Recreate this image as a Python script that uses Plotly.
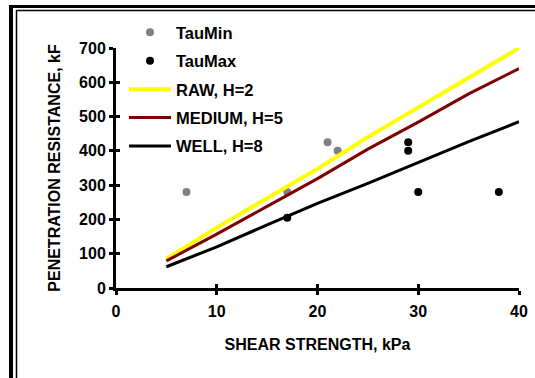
import plotly.graph_objects as go

# ---- data ----
tau_min_x = [7, 17, 21, 22]
tau_min_y = [280, 280, 425, 400]
tau_max_x = [17, 29, 29, 30, 38]
tau_max_y = [205, 425, 400, 280, 280]

shear = [5, 10, 15, 20, 25, 30, 35, 40]
raw_h2 = [85, 176, 262, 348, 440, 528, 613, 700]
medium_h5 = [79, 157, 238, 319, 405, 484, 566, 640]
well_h8 = [62, 120, 184, 247, 305, 366, 427, 485]

x_ticks = [0, 10, 20, 30, 40]
y_ticks = [0, 100, 200, 300, 400, 500, 600, 700]

# ---- layout constants ----
W, H = 535, 378
ML, MR, MT, MB = 116, 16, 48, 90
PW, PH = W - ML - MR, H - MT - MB
FONT = "Arial, Liberation Sans, sans-serif"


def px_x(p):
    return (p - ML) / PW


def px_y(p):
    return (H - MB - p) / PH


fig = go.Figure()
fig.add_trace(go.Scatter(x=tau_min_x, y=tau_min_y, mode="markers", name="TauMin",
                         marker=dict(color="#808080", size=8), legendgroup="a", cliponaxis=False))
fig.add_trace(go.Scatter(x=tau_max_x, y=tau_max_y, mode="markers", name="TauMax",
                         marker=dict(color="black", size=8), legendgroup="b", cliponaxis=False))
fig.add_trace(go.Scatter(x=shear, y=raw_h2, mode="lines", name="RAW, H=2",
                         line=dict(color="#FFFF00", width=4), legendgroup="c"))
fig.add_trace(go.Scatter(x=shear, y=medium_h5, mode="lines", name="MEDIUM, H=5",
                         line=dict(color="#800000", width=3), legendgroup="d"))
fig.add_trace(go.Scatter(x=shear, y=well_h8, mode="lines", name="WELL, H=8",
                         line=dict(color="black", width=3), legendgroup="e"))

axis_common = dict(showgrid=False, zeroline=False, showline=True, linecolor="black",
                   linewidth=3, ticks="outside", ticklen=4, tickwidth=3, tickcolor="black",
                   automargin=False,
                   tickfont=dict(family=FONT, size=16, color="black", weight="bold"))

fig.update_layout(
    width=W, height=H,
    margin=dict(l=ML, r=MR, t=MT, b=MB, autoexpand=False),
    paper_bgcolor="white", plot_bgcolor="white",
    xaxis=dict(range=[0, 40], tickvals=x_ticks, **axis_common, ticklabelstandoff=3,
               title=dict(text="SHEAR STRENGTH, kPa", standoff=20,
                          font=dict(family=FONT, size=16, color="black", weight="bold"))),
    yaxis=dict(range=[0, 700], tickvals=y_ticks, **axis_common,
               title=dict(text="PENETRATION RESISTANCE, kF", standoff=15,
                          font=dict(family=FONT, size=16, color="black", weight="bold"))),
    xaxis2=dict(range=[0, 40], tickvals=x_ticks, overlaying="x", showgrid=False,
                zeroline=False, showline=False, ticks="inside", ticklen=4, tickwidth=3,
                tickcolor="black", showticklabels=False, anchor="y"),
    yaxis2=dict(range=[0, 700], tickvals=y_ticks, overlaying="y", showgrid=False,
                zeroline=False, showline=False, ticks="inside", ticklen=4, tickwidth=3,
                tickcolor="black", showticklabels=False, anchor="x"),
    legend=dict(x=px_x(124), y=px_y(15), xanchor="left", yanchor="top",
                bgcolor="rgba(0,0,0,0)", itemwidth=42, tracegroupgap=4,
                font=dict(family=FONT, size=16.5, color="black", weight="bold")),
    showlegend=True,
)

# dummy trace to activate overlay axes
fig.add_trace(go.Scatter(x=[None], y=[None], xaxis="x2", yaxis="y2", showlegend=False,
                         hoverinfo="skip"))

# double frame (left and top)
frame = [
    dict(x0=px_x(11), x1=px_x(11), y0=px_y(5), y1=px_y(H + 5), w=4),
    dict(x0=px_x(9), x1=px_x(W + 5), y0=px_y(6.5), y1=px_y(6.5), w=3),
    dict(x0=px_x(16.5), x1=px_x(16.5), y0=px_y(10), y1=px_y(H + 5), w=1.5),
    dict(x0=px_x(16), x1=px_x(W + 5), y0=px_y(10.5), y1=px_y(10.5), w=1.5),
]
for f in frame:
    fig.add_shape(type="line", xref="paper", yref="paper", x0=f["x0"], x1=f["x1"],
                  y0=f["y0"], y1=f["y1"], line=dict(color="black", width=f["w"]))

fig.write_html("out.html", config={"displayModeBar": False},
               post_script="document.body.style.margin='0px';document.body.style.overflow='hidden';")
